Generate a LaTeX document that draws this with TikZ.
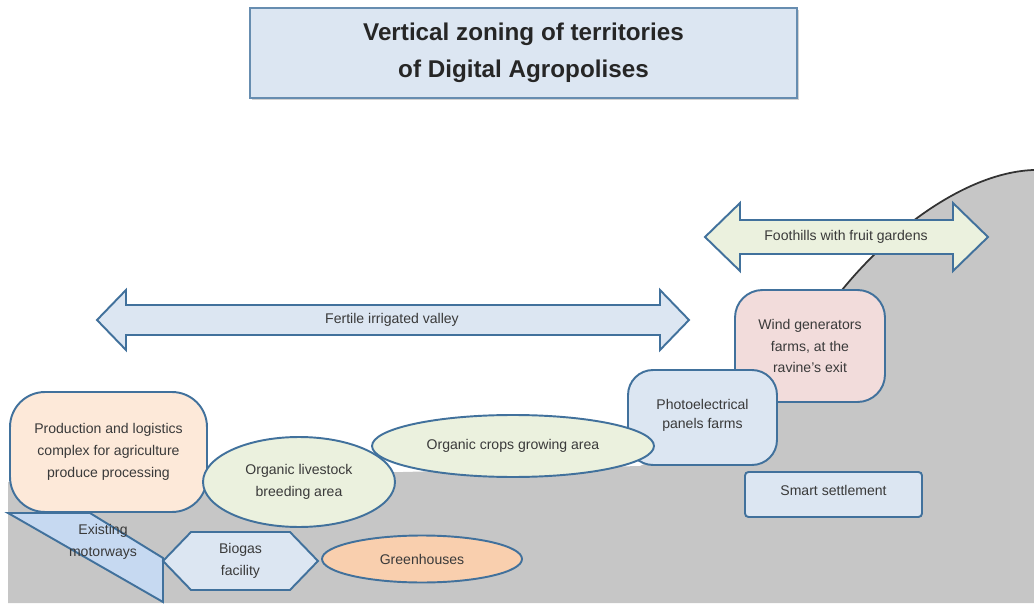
\documentclass[tikz,border=0pt]{standalone}
\usepackage{fontspec}
\setmainfont{Liberation Sans}
\usepackage{xcolor}
\usetikzlibrary{positioning,shapes.geometric,shapes.symbols,shadows}

\definecolor{edgeblue}{HTML}{41719C}
\definecolor{paleblue}{HTML}{DCE6F2}
\definecolor{palegreen}{HTML}{EBF1DE}
\definecolor{palepeach}{HTML}{FDE9D9}
\definecolor{palepink}{HTML}{F2DCDB}
\definecolor{peach}{HTML}{F9CFAE}
\definecolor{roadblue}{HTML}{C6D9F1}
\definecolor{ground}{HTML}{C6C6C6}
\definecolor{ink}{HTML}{3A3A3A}

\begin{document}
\begin{tikzpicture}[x=0.02cm, y=-0.02cm,
    zone/.style={draw=edgeblue, line width=1.1pt, text=ink, align=center,
      font=\fontsize{8}{12.5}\selectfont, inner sep=0pt},
    roundbox/.style={zone, rectangle, rounded corners=#1},
    oval/.style={zone, ellipse},
    label/.style={text=ink, align=center, font=\fontsize{8}{12.5}\selectfont}]
  \useasboundingbox (0,0) rectangle (1034,604);

  % Ground and hill
  \fill[ground] (8,482) -- (640,466) -- (700,440) -- (760,380) -- (842,290)
    .. controls (895,225) and (970,172) .. (1034,170) -- (1034,603) -- (8,603) -- cycle;
  \draw[black!80, line width=1pt] (842,290) .. controls (895,225) and (970,172) .. (1034,170);

  % Title
  \node (title) [zone, fill=paleblue, draw=edgeblue!80, drop shadow={shadow xshift=1pt, shadow yshift=-1pt, opacity=.35},
    minimum width=10.94cm, minimum height=1.8cm, font=\fontsize{13.8}{21}\selectfont\bfseries, text=black!85]
    at (523.5,53) {Vertical zoning of territories\\of Digital Agropolises};

  % Arrows
  \draw[zone, fill=paleblue] (97,320) -- (126,290) -- (126,305) -- (660,305) -- (660,290) -- (689,320)
    -- (660,350) -- (660,335) -- (126,335) -- (126,350) -- cycle;
  \node (valley) [label] at (392,320) {Fertile irrigated valley};
  \draw[zone, fill=palegreen] (705,237) -- (740,203) -- (740,220) -- (953,220) -- (953,203) -- (988,237)
    -- (953,271) -- (953,254) -- (740,254) -- (740,271) -- cycle;
  \node (foothills) [label] at (846,237) {Foothills with fruit gardens};

  % Nodes
  \node (wind) [roundbox=0.55cm, fill=palepink, minimum width=3cm, minimum height=2.24cm]
    at (810,346) {Wind generators\\farms, at the\\ravine's exit};
  \node (photo) [roundbox=0.5cm, fill=paleblue, minimum width=2.98cm, minimum height=1.9cm]
    at (702.5,417.5) {\raisebox{4pt}{\shortstack{Photoelectrical\\[2pt]panels farms}}};
  \node (prod) [roundbox=0.7cm, fill=palepeach, minimum width=3.94cm, minimum height=2.4cm]
    at (108.5,452) {Production and logistics\\complex for agriculture\\produce processing};
  \node (livestock) [oval, fill=palegreen, minimum width=3.84cm, minimum height=1.8cm]
    at (299,482) {Organic livestock\\breeding area};
  \node (crops) [oval, fill=palegreen, minimum width=5.64cm, minimum height=1.24cm]
    at (513,446) {Organic crops growing area};
  \draw[zone, fill=roadblue] (8,513) -- (90,513) -- (163,558) -- (163,602) -- cycle;
  \node (roads) [label] at (103,542) {Existing\\motorways};
  \node (biogas) [zone, signal, signal to=east and west, signal pointer angle=92, fill=paleblue,
    minimum width=3.1cm, minimum height=1.16cm] at (240.5,561) {Biogas\\facility};
  \node (green) [oval, fill=peach, minimum width=4cm, minimum height=0.94cm]
    at (422,559) {Greenhouses};
  \node (smart) [roundbox=2pt, fill=paleblue, minimum width=3.54cm, minimum height=0.9cm]
    at (833.5,494.5) {\raisebox{5pt}{Smart settlement}};
\end{tikzpicture}
\end{document}
